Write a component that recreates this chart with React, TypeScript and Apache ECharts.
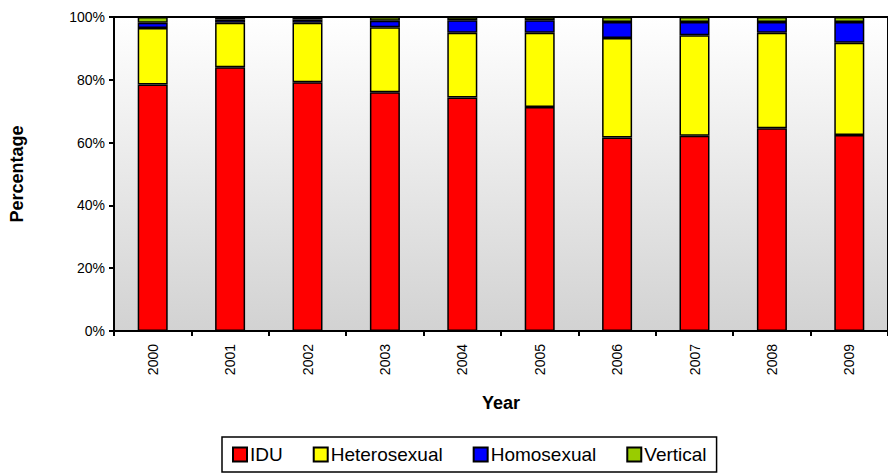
import React, { useEffect, useRef } from "react";
import * as echarts from "echarts";

const years = ["2000", "2001", "2002", "2003", "2004", "2005", "2006", "2007", "2008", "2009"];
const idu = [78.5, 84.0, 79.2, 76.0, 74.4, 71.3, 61.6, 62.2, 64.6, 62.4];
const heterosexual = [18.0, 14.2, 19.0, 20.7, 20.6, 23.7, 31.7, 32.0, 30.4, 29.4];
const homosexual = [1.7, 1.0, 1.0, 2.1, 4.0, 4.0, 5.1, 4.2, 3.4, 6.6];
const vertical = [1.8, 0.8, 0.8, 1.2, 1.0, 1.0, 1.6, 1.6, 1.6, 1.6];

const seriesDefs = [
  { name: "IDU", data: idu, color: "#ff0000" },
  { name: "Heterosexual", data: heterosexual, color: "#ffff00" },
  { name: "Homosexual", data: homosexual, color: "#0000ff" },
  { name: "Vertical", data: vertical, color: "#99cc00" },
];

const FONT = "'Liberation Sans', Arial, sans-serif";

export default function App() {
  const ref = useRef<HTMLDivElement>(null);
  useEffect(() => {
    if (!ref.current) return;
    const chart = echarts.init(ref.current, null, { renderer: "svg" });
    chart.setOption({
      animation: false,
      backgroundColor: "#ffffff",
      textStyle: { fontFamily: FONT },
      grid: {
        left: 113,
        top: 17,
        right: -3,
        bottom: 145,
        show: true,
        borderColor: "#000000",
        borderWidth: 2,
        backgroundColor: {
          type: "linear",
          x: 0,
          y: 0,
          x2: 0,
          y2: 1,
          colorStops: [
            { offset: 0, color: "#ffffff" },
            { offset: 1, color: "#d2d2d2" },
          ],
        },
      },
      legend: {
        bottom: 4,
        left: 222,
        itemGap: 30,
        padding: [8, 10, 8, 10],
        borderColor: "#000000",
        borderWidth: 1.5,
        itemWidth: 14,
        itemHeight: 14,
        icon: "rect",
        textStyle: { fontSize: 19, color: "#000", fontFamily: FONT, padding: [0, 0, 0, -2] },
        data: seriesDefs.map((s) => s.name),
      },
      xAxis: {
        type: "category",
        data: years,
        name: "Year",
        nameLocation: "middle",
        nameGap: 63,
        nameTextStyle: { fontSize: 18, fontWeight: "bold", color: "#000", fontFamily: FONT },
        axisLine: { lineStyle: { color: "#000", width: 2 } },
        axisTick: { show: true, length: 5, lineStyle: { color: "#000", width: 2 } },
        axisLabel: { rotate: 90, fontSize: 14, color: "#000", margin: 13, fontFamily: FONT },
        splitLine: { show: false },
      },
      yAxis: {
        type: "value",
        min: 0,
        max: 100,
        interval: 20,
        name: "Percentage",
        nameLocation: "middle",
        nameGap: 88,
        nameTextStyle: { fontSize: 18, fontWeight: "bold", color: "#000", fontFamily: FONT },
        axisLine: { show: true, lineStyle: { color: "#000", width: 2 } },
        axisTick: { show: true, length: 5, lineStyle: { color: "#000", width: 2 } },
        axisLabel: { formatter: "{value}%", fontSize: 14, color: "#000", margin: 9, fontFamily: FONT },
        splitLine: { show: false },
      },
      series: seriesDefs.map((s) => ({
        name: s.name,
        type: "bar",
        stack: "total",
        data: s.data,
        barWidth: 30,
        itemStyle: { color: s.color, borderColor: "#000", borderWidth: 1.5 },
      })),
    });
    return () => chart.dispose();
  }, []);
  return <div ref={ref} style={{ position: "fixed", left: 0, top: 0, width: 888, height: 476 }} />;
}
